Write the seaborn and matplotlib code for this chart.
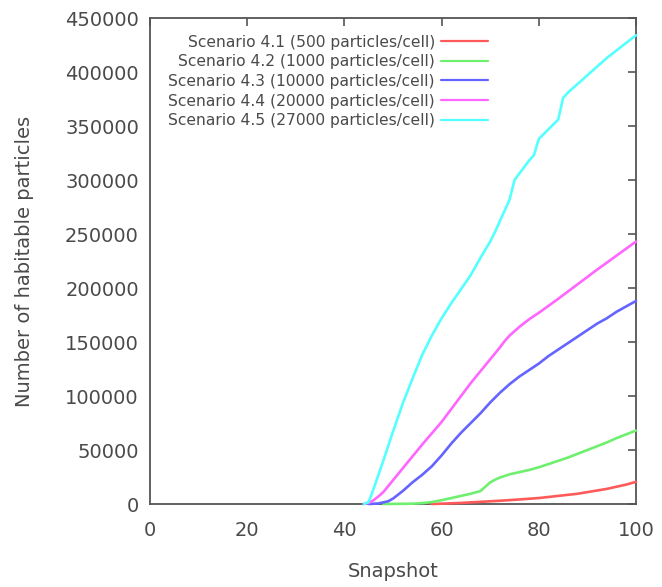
import numpy as np
import pandas as pd
import matplotlib
matplotlib.use("Agg")
import matplotlib.pyplot as plt
import seaborn as sns

# ==========================================
# DATA
# ==========================================

labels = [
    "Scenario 4.1 (500 particles/cell)",
    "Scenario 4.2 (1000 particles/cell)",
    "Scenario 4.3 (10000 particles/cell)",
    "Scenario 4.4 (20000 particles/cell)",
    "Scenario 4.5 (27000 particles/cell)",
]

snap_41 = [58, 60, 64, 68, 72, 76, 80, 84, 88, 90, 92, 94, 96, 98, 100]
hab_41 = [0, 300, 1000, 2000, 3000, 4200, 5500, 7500, 9500, 11000, 12500, 14000, 16000, 18000, 20500]

snap_42 = [48, 54, 56, 58, 60, 62, 64, 66, 68, 69, 70, 71, 72, 74, 76, 78, 80,
           82, 84, 86, 88, 90, 92, 94, 96, 98, 100]
hab_42 = [0, 300, 800, 1800, 3500, 5500, 7500, 9500, 12000, 16000, 20000, 22500, 24500,
          27500, 29500, 31500, 34000, 37000, 40000, 43000, 46500, 50000, 53500, 57000,
          61000, 64500, 68000]

snap_43 = [45, 47, 48, 49, 50, 52, 54, 56, 58, 60, 62, 64, 66, 68, 70, 72, 74, 76,
           78, 80, 82, 84, 86, 88, 90, 92, 94, 96, 98, 100]
hab_43 = [0, 500, 1500, 2500, 5000, 12000, 20000, 27000, 35000, 45000, 56000, 66000,
          75000, 84000, 94000, 103000, 111000, 118000, 124000, 130000, 137000, 143000,
          149000, 155000, 161000, 167000, 172000, 178000, 183000, 188000]

snap_44 = [44, 45, 46, 47, 48, 50, 52, 54, 56, 58, 60, 62, 64, 66, 68, 70, 72, 73,
           74, 76, 78, 80, 84, 88, 92, 96, 100]
hab_44 = [0, 1000, 3500, 7000, 11000, 22000, 33000, 44000, 55000, 65500, 76000, 88000,
          100000, 112000, 123000, 134000, 145000, 151000, 156000, 164000, 171000, 177000,
          190000, 203500, 217000, 230000, 243000]

snap_45 = [44, 45, 46, 48, 50, 52, 54, 56, 58, 60, 62, 64, 66, 68, 70, 71, 72, 73,
           74, 75, 76, 78, 79, 80, 82, 84, 85, 86, 88, 90, 92, 94, 96, 98, 100]
hab_45 = [0, 2000, 14000, 40000, 67000, 93000, 116000, 138000, 156000, 172000, 186000,
          199000, 212000, 228000, 243000, 252000, 262000, 272000, 282000, 300000, 306000,
          318000, 323000, 338000, 347000, 356000, 376000, 381000, 389000, 397000, 405000,
          413000, 420000, 427000, 434000]

colors = ["#ff5a5a", "#6ef06e", "#6464ff", "#ff66ff", "#55ffff"]

# long-form table for seaborn
frames = []
for lab, s, h in zip(labels,
                     [snap_41, snap_42, snap_43, snap_44, snap_45],
                     [hab_41, hab_42, hab_43, hab_44, hab_45]):
    frames.append(pd.DataFrame({"Snapshot": s, "Habitable": h, "Scenario": lab}))
df = pd.concat(frames, ignore_index=True)

# ==========================================
# PLOT
# ==========================================

sns.set_theme(style="white")
plt.rcParams['font.family'] = ['DejaVu Sans']
text_col = "#4a4a4a"

fig = plt.figure(figsize=(6.62, 5.87), dpi=100)
ax = fig.add_axes([150/662, 83/587, 486/662, 486/587])

sns.lineplot(data=df, x="Snapshot", y="Habitable", hue="Scenario",
             palette=dict(zip(labels, colors)), linewidth=1.9,
             ax=ax, clip_on=False, zorder=3)

ax.set_xlim(0, 100)
ax.set_ylim(0, 450000)
ax.set_xticks(range(0, 101, 20))
ax.set_yticks(range(0, 450001, 50000))
ax.set_yticklabels([str(v) for v in range(0, 450001, 50000)])

ax.tick_params(direction="in", top=True, right=True, length=6, width=1.2,
               color="#555555", labelsize=14, labelcolor=text_col, pad=8)
ax.tick_params(axis="x", pad=12)
for sp in ax.spines.values():
    sp.set_color("#555555")
    sp.set_linewidth(1.3)

ax.set_xlabel("Snapshot", fontsize=14, color=text_col, labelpad=16)
ax.set_ylabel("Number of habitable particles", fontsize=14, color=text_col, labelpad=22)

leg = ax.legend(loc="upper right", bbox_to_anchor=(0.695, 0.966), frameon=False,
                markerfirst=False, fontsize=11.2, handlelength=3.0, handletextpad=0.4,
                labelspacing=0.3, borderpad=0, borderaxespad=0)
for t in leg.get_texts():
    t.set_color(text_col)
for l in leg.get_lines():
    l.set_linewidth(1.6)

fig.savefig("out.png", dpi=100)
